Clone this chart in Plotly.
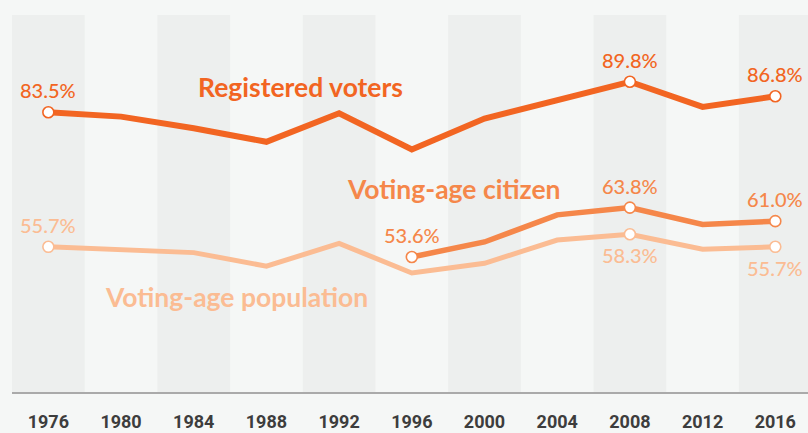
import plotly.graph_objects as go

years = [1976, 1980, 1984, 1988, 1992, 1996, 2000, 2004, 2008, 2012, 2016]
registered = [83.5, 82.6, 80.2, 77.4, 83.3, 75.8, 82.2, 86.0, 89.8, 84.6, 86.8]
population = [55.7, 55.1, 54.5, 51.7, 56.4, 50.3, 52.3, 57.1, 58.3, 55.2, 55.7]
citizen_years = [1996, 2000, 2004, 2008, 2012, 2016]
citizen = [53.6, 56.7, 62.3, 63.8, 60.3, 61.0]
band_years = [1976, 1984, 1992, 2000, 2008, 2016]
tick_labels = [str(y) for y in years]

reg_marked = [1976, 2008, 2016]
pop_marked = [1976, 2008, 2016]
cit_marked = [1996, 2008, 2016]

C_REG = "#f26522"
C_CIT = "#f5874a"
C_POP = "#fbbc93"
BG = "#f5f7f6"
BAND = "#edefee"

fig = go.Figure()

series = [
    ("Voting-age population", years, population, C_POP, 5, pop_marked, [1, -1, -1]),
    ("Voting-age citizen", citizen_years, citizen, C_CIT, 5.5, cit_marked, [1, 1, 1]),
    ("Registered voters", years, registered, C_REG, 6, reg_marked, [1, 1, 1]),
]

annotations = []
for name, xs, ys, col, w, marked, sides in series:
    fig.add_trace(go.Scatter(x=xs, y=ys, mode="lines", line=dict(color=col, width=w),
                             hoverinfo="skip", showlegend=False))
    mx = [x for x in xs if x in marked]
    my = [y for x, y in zip(xs, ys) if x in marked]
    fig.add_trace(go.Scatter(x=mx, y=my, mode="markers",
                             marker=dict(size=11, color="white", line=dict(color=col, width=1.6)),
                             hoverinfo="skip", showlegend=False))
    for x, y, s in zip(mx, my, sides):
        annotations.append(dict(x=x, y=y, xref="x", yref="y", text=f"{y:.1f}%",
                                xanchor="center", yanchor="middle",
                                showarrow=False, yshift=22 if s > 0 else -21,
                                font=dict(family="Lato", size=20, color=col, weight=500)))

annotations += [
    dict(x=1989.85, y=88.7, xref="x", yref="y", text="<b>Registered voters</b>", showarrow=False,
         xanchor="center", yanchor="middle",
         font=dict(family="Lato", size=26.5, color=C_REG)),
    dict(x=1998.33, y=67.6, xref="x", yref="y", text="<b>Voting-age citizen</b>", showarrow=False,
         xanchor="center", yanchor="middle",
         font=dict(family="Lato", size=26.5, color=C_CIT)),
    dict(x=1986.33, y=45.3, xref="x", yref="y", text="<b>Voting-age population</b>", showarrow=False,
         xanchor="center", yanchor="middle",
         font=dict(family="Lato", size=26.5, color=C_POP)),
]

shapes = [dict(type="rect", xref="x", yref="paper", x0=b - 2, x1=b + 2, y0=0, y1=1,
               fillcolor=BAND, line=dict(width=0), layer="below") for b in band_years]

fig.update_layout(
    width=808, height=433,
    margin=dict(l=12, r=0, t=15, b=41, autoexpand=False),
    paper_bgcolor=BG, plot_bgcolor=BG,
    shapes=shapes, annotations=annotations,
    xaxis=dict(range=[1974, 2017.8], tickvals=years, ticktext=tick_labels,
               showgrid=False, zeroline=False, showline=True, linecolor="#aaaaaa", linewidth=2,
               ticks="", ticklabelstandoff=12, automargin=False,
               tickfont=dict(family="Liberation Sans Narrow, Roboto, sans-serif", size=18,
                             color="#3d3d3d", weight="bold")),
    yaxis=dict(range=[25.7, 103.6], showgrid=False, zeroline=False, showticklabels=False,
               showline=False, automargin=False),
)

fig.write_html("out.html", config={"displayModeBar": False},
               post_script="document.body.style.margin='0';document.body.style.overflow='hidden';")
